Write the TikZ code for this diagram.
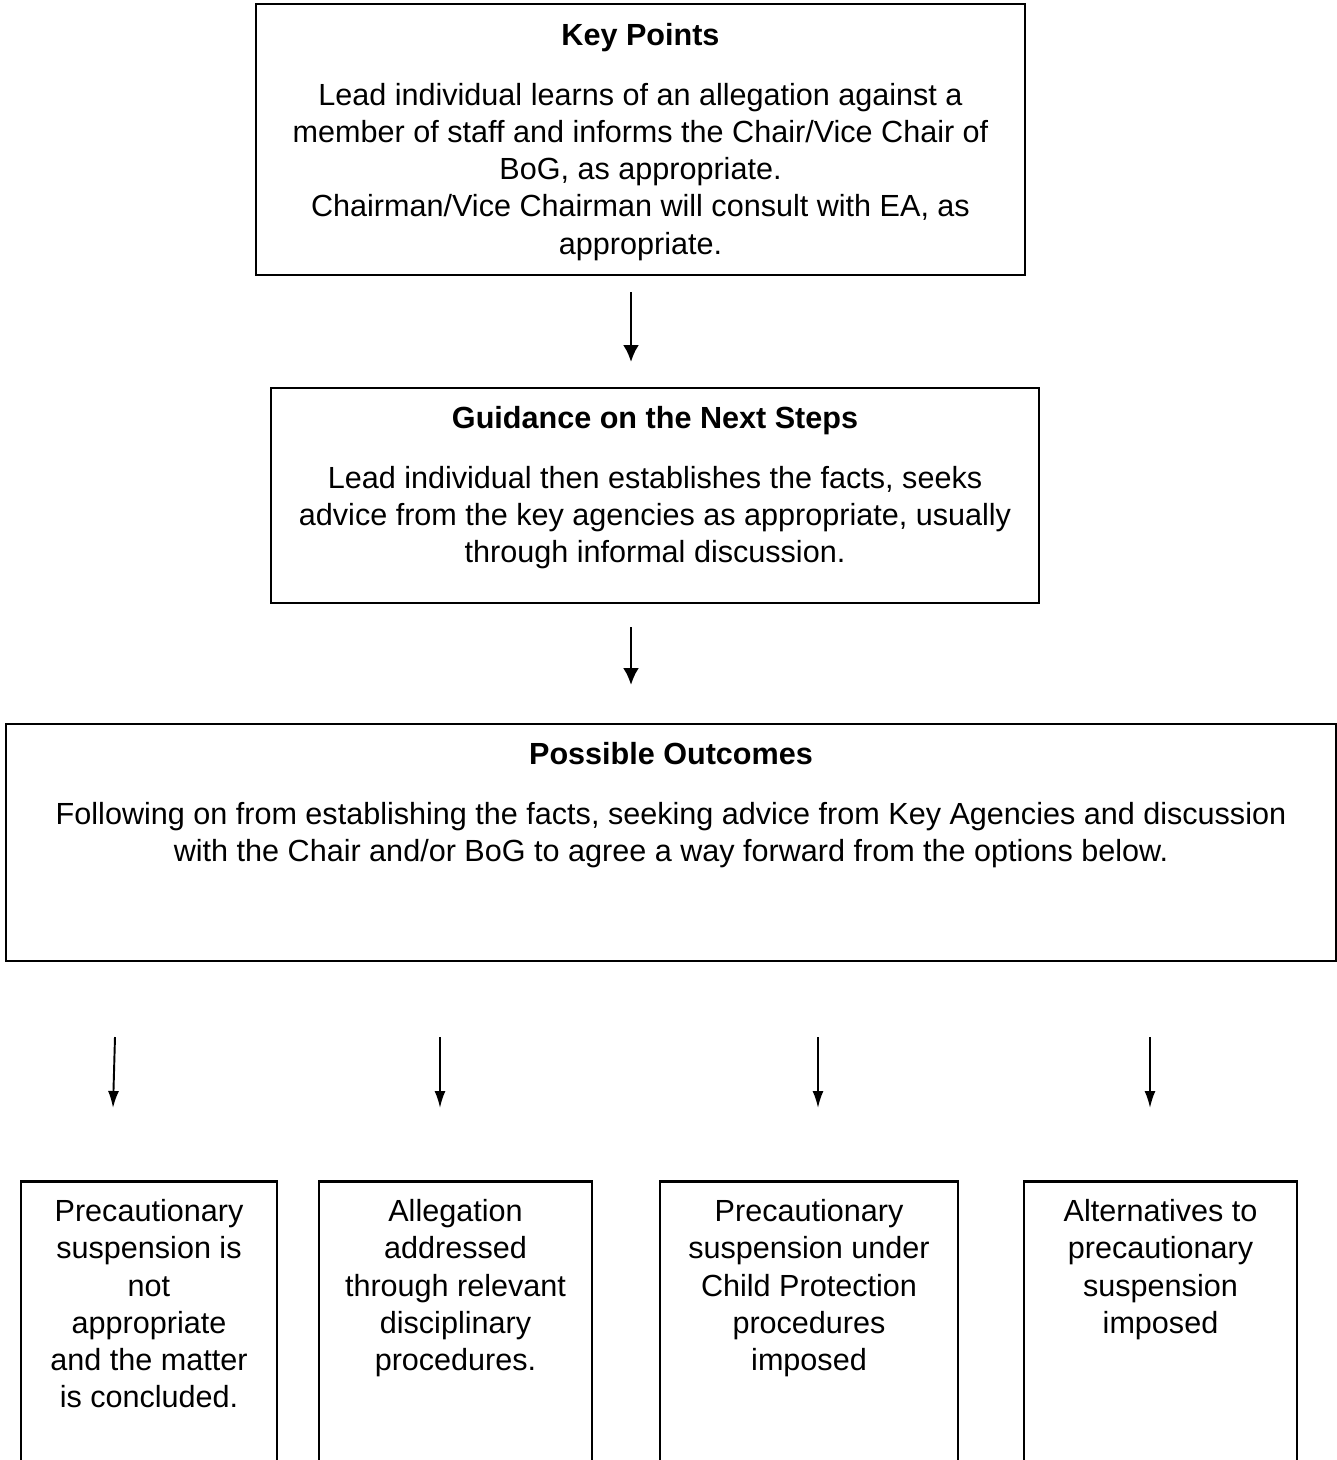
\documentclass[tikz,border=0pt]{standalone}
\usepackage{fontspec}
\setmainfont{Liberation Sans}
\usetikzlibrary{arrows.meta,positioning}
\tikzset{
	frame/.style={draw, line width=1.6pt, inner sep=0pt},
	boxtext/.style={align=center, inner sep=0pt, font=\fontsize{17.4}{21.2}\selectfont},
	flow/.style={line width=1.6pt, -{Latex[length=0.34cm,width=0.32cm]}},
	branch/.style={line width=1.1pt, -{Latex[length=0.34cm,width=0.22cm]}}
}
\newcommand{\heading}[1]{\textbf{#1}\\[12.9pt]}

\begin{document}
\begin{tikzpicture}
		%%%%% START %%%%%
		\useasboundingbox (0, 0) rectangle (26.74, -29.2);
		\clip (0, 0) rectangle (26.74, -29.2);
		
		\node[frame, minimum width=15.38cm, minimum height=5.42cm] (keybox) at (12.81, -2.79) {};
		\node[boxtext, below=0.40cm of keybox.north] (keytext) {\heading{Key Points}
			Lead individual learns of an allegation against a\\
			member of staff and informs the Chair/Vice Chair of\\
			BoG, as appropriate.\\
			Chairman/Vice Chairman will consult with EA, as\\
			appropriate.};
		
		\node[frame, minimum width=15.36cm, minimum height=4.30cm] (nextbox) at (13.10, -9.91) {};
		\node[boxtext, below=0.38cm of nextbox.north] (nexttext) {\heading{Guidance on the Next Steps}
			Lead individual then establishes the facts, seeks\\
			advice from the key agencies as appropriate, usually\\
			through informal discussion.};
		
		\node[frame, minimum width=26.60cm, minimum height=4.74cm] (outbox) at (13.42, -16.85) {};
		\node[boxtext, below=0.38cm of outbox.north] (outtext) {\heading{Possible Outcomes}
			Following on from establishing the facts, seeking advice from Key Agencies and discussion\\
			with the Chair and/or BoG to agree a way forward from the options below.};
		
		\coordinate (k1) at (12.62, -5.84);
		\coordinate (k2) at (12.62, -7.24);
		\draw[flow] (k1) -- (k2);
		\coordinate (n1) at (12.62, -12.54);
		\coordinate (n2) at (12.62, -13.70);
		\draw[flow] (n1) -- (n2);
		
		%% the four options, open at the foot of the page
		\node[frame, anchor=north, minimum width=5.12cm, minimum height=6.5cm] (optA) at (2.98, -23.6) {};
		\node[boxtext, below=0.38cm of optA.north] (txtA) {Precautionary\\ suspension is\\ not\\ appropriate\\ and the matter\\ is concluded.};
		
		\node[frame, anchor=north, minimum width=5.46cm, minimum height=6.5cm] (optB) at (9.11, -23.6) {};
		\node[boxtext, below=0.38cm of optB.north] (txtB) {Allegation\\ addressed\\ through relevant\\ disciplinary\\ procedures.};
		
		\node[frame, anchor=north, minimum width=5.96cm, minimum height=6.5cm] (optC) at (16.18, -23.6) {};
		\node[boxtext, below=0.38cm of optC.north] (txtC) {Precautionary\\ suspension under\\ Child Protection\\ procedures\\ imposed};
		
		\node[frame, anchor=north, minimum width=5.46cm, minimum height=6.5cm] (optD) at (23.21, -23.6) {};
		\node[boxtext, below=0.38cm of optD.north] (txtD) {Alternatives to\\ precautionary\\ suspension\\ imposed};
		
		\coordinate (a1) at (2.30, -20.74);
		\coordinate (a2) at (2.26, -22.16);
		\draw[branch] (a1) -- (a2);
		\coordinate (b1) at (8.80, -20.74);
		\coordinate (b2) at (8.80, -22.16);
		\draw[branch] (b1) -- (b2);
		\coordinate (c1) at (16.36, -20.74);
		\coordinate (c2) at (16.36, -22.16);
		\draw[branch] (c1) -- (c2);
		\coordinate (d1) at (23.00, -20.74);
		\coordinate (d2) at (23.00, -22.16);
		\draw[branch] (d1) -- (d2);
		%%%%% END %%%%%
	\end{tikzpicture}
\end{document}
